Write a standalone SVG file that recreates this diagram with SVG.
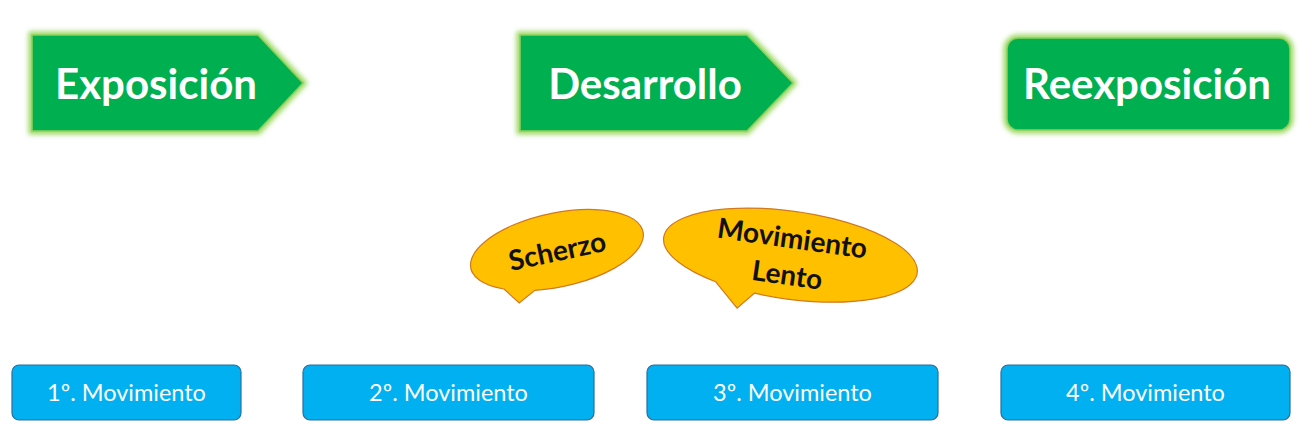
<svg xmlns="http://www.w3.org/2000/svg" width="1306" height="444" viewBox="0 0 1306 444">
<defs>
<filter id="glow" x="-10%" y="-20%" width="120%" height="140%">
<feGaussianBlur stdDeviation="2.5"/>
</filter>
<style>
.glowline{fill:none;stroke:#9BD860;stroke-width:7;filter:url(#glow)}
.green{fill:#00B050;stroke:#8ED05A;stroke-width:1.5}
.title{font-family:Lato,"Open Sans",sans-serif;font-weight:bold;font-size:42px;fill:#fff;text-anchor:middle}
.bubble{fill:#FFC000;stroke:#D07A20;stroke-width:1.2}
.btext{font-family:Lato,"Open Sans",sans-serif;font-weight:bold;font-size:28px;fill:#111;text-anchor:middle}
.mov{fill:#00B0F0;stroke:#2A6E9E;stroke-width:1.2}
.mtext{font-family:Lato,"Open Sans",sans-serif;font-size:23.5px;fill:#fff;text-anchor:middle}
</style>
</defs>
<rect width="1306" height="444" fill="#fff"/>
<g id="exposicion">
<path class="glowline" d="M32,35 H258 L303,83 L258,131 H32 Z"/>
<path class="green" d="M32,35 H258 L303,83 L258,131 H32 Z"/>
<text class="title" x="156" y="99">Exposición</text>
</g>
<g id="desarrollo">
<path class="glowline" d="M520,35 H747 L793,83 L747,131 H520 Z"/>
<path class="green" d="M520,35 H747 L793,83 L747,131 H520 Z"/>
<text class="title" x="645" y="99">Desarrollo</text>
</g>
<g id="reexposicion">
<rect class="glowline" x="1007" y="38" width="283" height="92" rx="11"/>
<rect class="green" x="1007" y="38" width="283" height="92" rx="11"/>
<text class="title" x="1147" y="99">Reexposición</text>
</g>
<g id="scherzo" transform="translate(557,250) rotate(-12)">
<path class="bubble" d="M-60,27.1 L-48,44 L-30,34.8 A88,37 0 1 0 -60,27.1 Z"/>
<text class="btext" x="0" y="11">Scherzo</text>
</g>
<g id="movimiento-lento" transform="translate(790,255) rotate(8)">
<path class="bubble" d="M-70,36.8 L-45,60 L-30,42.8 A128,44 0 1 0 -70,36.8 Z"/>
<text class="btext" x="0" y="-7">Movimiento</text>
<text class="btext" x="0" y="30">Lento</text>
</g>
<g id="connectors"></g>
<g id="mov1">
<rect class="mov" x="12" y="365" width="229" height="55" rx="7"/>
<text class="mtext" x="126.5" y="401">1º. Movimiento</text>
</g>
<g id="mov2">
<rect class="mov" x="303" y="365" width="291" height="55" rx="7"/>
<text class="mtext" x="448.5" y="401">2º. Movimiento</text>
</g>
<g id="mov3">
<rect class="mov" x="647" y="365" width="291" height="55" rx="7"/>
<text class="mtext" x="792.5" y="401">3º. Movimiento</text>
</g>
<g id="mov4">
<rect class="mov" x="1001" y="365" width="289" height="55" rx="7"/>
<text class="mtext" x="1145.5" y="401">4º. Movimiento</text>
</g>
</svg>
